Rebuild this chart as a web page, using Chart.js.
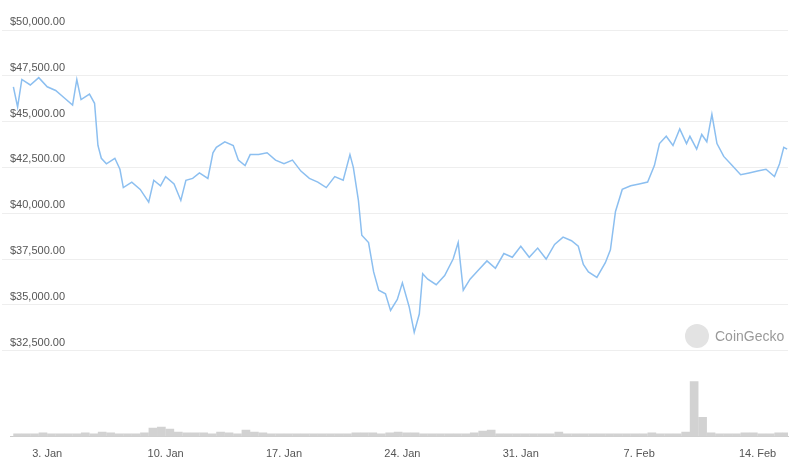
<!DOCTYPE html><html><head><script src="https://cdn.jsdelivr.net/npm/chart.js@4"></script>
<style>body{margin:0;background:#fff}#w{width:800px;height:464px}</style></head><body><div id="w"><canvas id="c"></canvas></div>
<script>
const times=[0,0.25,0.5,1,1.5,2,2.5,3,3.5,3.75,4,4.5,4.8,5,5.2,5.5,6,6.3,6.5,7,7.5,8,8.3,8.7,9,9.5,9.9,10.2,10.6,11,11.5,11.8,12,12.5,13,13.3,13.7,14,14.5,15,15.5,16,16.5,17,17.5,18,18.5,19,19.5,19.9,20.1,20.4,20.6,21,21.3,21.6,22,22.3,22.7,23,23.4,23.7,24,24.2,24.5,25,25.5,26,26.3,26.6,27,27.5,28,28.5,29,29.5,30,30.5,31,31.5,32,32.5,33,33.4,33.7,34,34.5,35,35.3,35.6,36,36.5,37,37.5,37.9,38.2,38.6,39,39.4,39.8,40,40.4,40.7,41,41.3,41.6,42,42.5,43,43.5,44,44.5,45,45.3,45.55,45.75];
const prices=[46900,45800,47300,47000,47400,46900,46700,46300,45900,47300,46200,46500,46000,43700,43000,42700,43000,42400,41400,41700,41300,40600,41800,41500,42000,41600,40700,41800,41900,42200,41900,43300,43600,43900,43700,42900,42600,43200,43200,43300,42900,42700,42900,42300,41900,41700,41400,42000,41800,43200,42500,40700,38800,38400,36800,35800,35600,34700,35300,36200,34900,33500,34500,36700,36400,36100,36600,37500,38400,35800,36400,36900,37400,37000,37800,37600,38200,37600,38100,37500,38300,38700,38500,38200,37200,36800,36500,37300,38000,40100,41300,41500,41600,41700,42600,43800,44200,43700,44600,43800,44200,43500,44300,43900,45400,43800,43100,42600,42100,42200,42300,42400,42000,42700,43600,43500];
const volTimes=[];for(let i=0;i<92;i++)volTimes.push(i*0.5+0.25);
const volumes=[3,3,3,4,3,3,3,3,4,3,5,4,3,3,3,4,9,10,8,5,4,4,4,3,5,4,3,7,5,4,3,3,3,3,3,3,3,3,3,3,4,4,4,3,4,5,4,4,3,3,3,3,3,3,4,6,7,3,3,3,3,3,3,3,5,3,3,3,3,3,3,3,3,3,3,4,3,3,3,5,57,20,4,3,3,3,4,4,3,3,4,4];
const tickDays=[2,9,16,23,30,37,44];
const tickLabels=['3. Jan','10. Jan','17. Jan','24. Jan','31. Jan','7. Feb','14. Feb'];
const mark={id:'mark',afterDraw(c){const x=c.ctx;x.save();x.fillStyle='#e3e3e3';x.beginPath();x.arc(697,336,12,0,Math.PI*2);x.fill();x.fillStyle='#9a9a9a';x.font='14px "Liberation Sans"';x.textBaseline='middle';x.fillText('CoinGecko',715,337);x.restore();}};
new Chart(document.getElementById('c'),{data:{datasets:[
{type:'line',data:times.map((t,i)=>({x:t,y:prices[i]})),borderColor:'#8cbff0',borderWidth:1.5,pointRadius:0,tension:0,yAxisID:'y'},
{type:'bar',data:volTimes.map((t,i)=>({x:t,y:volumes[i]})),backgroundColor:'#d2d2d2',barThickness:8,yAxisID:'v'}]},
options:{responsive:true,maintainAspectRatio:false,animation:false,layout:{padding:{left:10,right:12,top:30,bottom:0}},
plugins:{legend:{display:false},tooltip:{enabled:false}},
scales:{x:{type:'linear',offset:false,min:-0.2,max:45.8,grid:{display:false,offset:false},border:{color:'#ccc'},afterBuildTicks:a=>{a.ticks=tickDays.map(v=>({value:v}))},ticks:{color:'#555',font:{family:'Liberation Sans',size:11},maxRotation:0,autoSkip:false,callback:(v)=>tickLabels[tickDays.indexOf(v)]}},
y:{position:'left',min:27800,max:50000,grid:{color:'#eeeeee'},border:{display:false},afterFit:a=>{a.width=0},afterBuildTicks:a=>{const t=[];for(let v=32500;v<=50000;v+=2500)t.push({value:v});a.ticks=t},ticks:{color:'#555',font:{family:'Liberation Sans',size:11},mirror:true,labelOffset:-8,padding:0,callback:v=>'$'+v.toLocaleString('en-US',{minimumFractionDigits:2})}},
v:{display:false,min:0,max:420}}},plugins:[mark]});
</script></body></html>
